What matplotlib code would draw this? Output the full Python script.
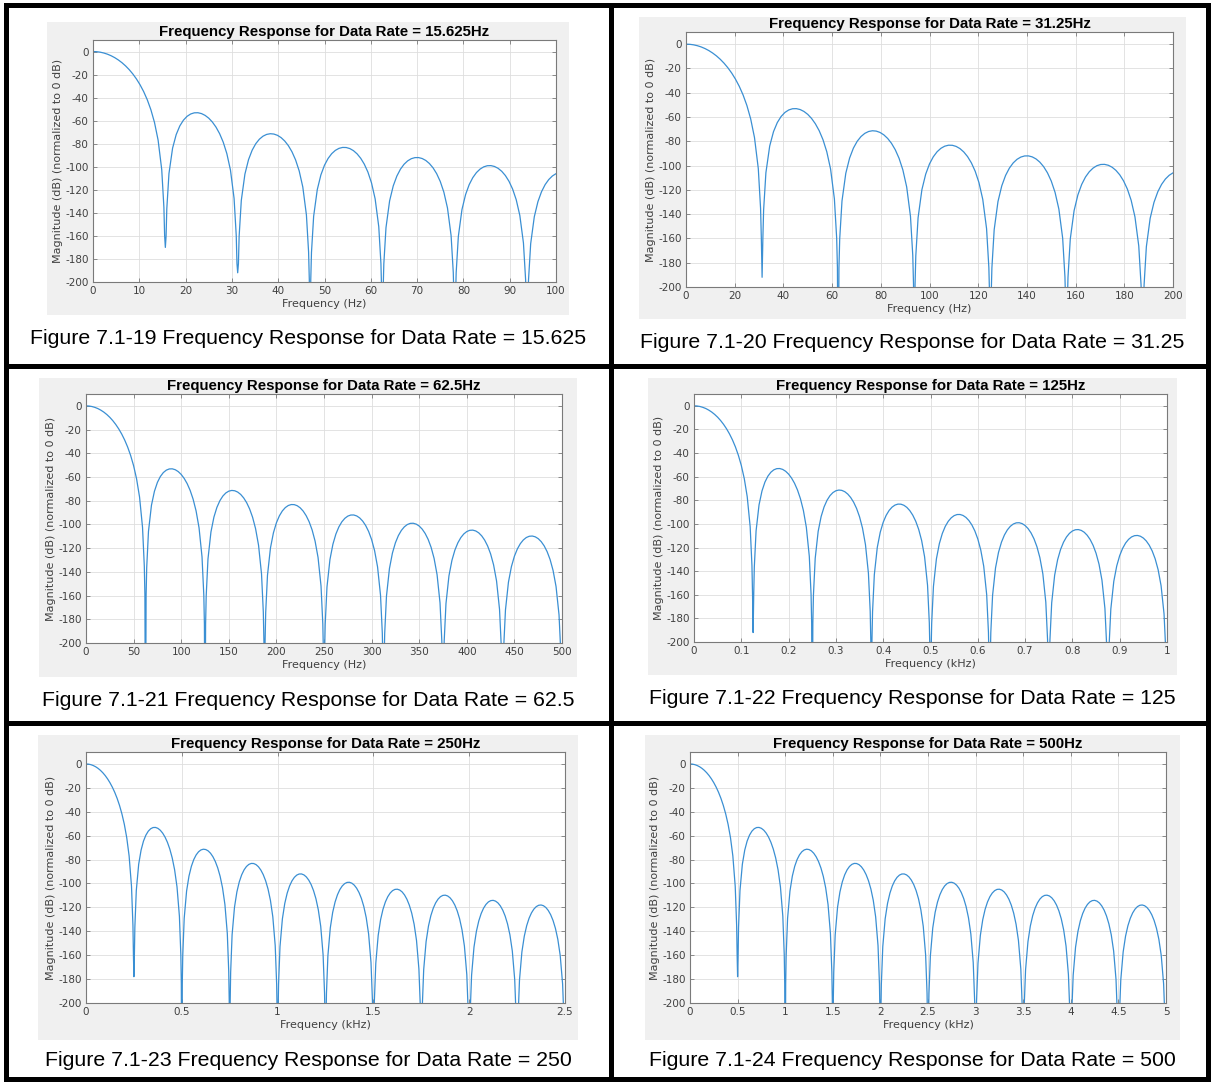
import numpy as np
import matplotlib.pyplot as plt
from matplotlib.lines import Line2D
from matplotlib.patches import Rectangle

plt.rcParams['axes.unicode_minus'] = False

W, H = 1211, 1083

# ---- data ----
# response shape in units of the data rate (f / data rate), values in dB
main_x = [0, 0.05, 0.1, 0.15, 0.2, 0.25, 0.3, 0.35, 0.4, 0.45, 0.5, 0.55,
          0.6, 0.65, 0.7, 0.75, 0.8, 0.85, 0.9, 0.95, 0.98, 0.99]
main_db = [0, -0.14, -0.57, -1.30, -2.31, -3.65, -5.30, -7.31, -9.67, -12.46,
           -15.69, -19.43, -23.76, -28.81, -34.74, -41.82, -50.48, -61.56,
           -76.91, -102.44, -135.24, -159.65]

# side lobes: points at n + offset, n = 1..9
lobe_offsets = [0.01, 0.02, 0.05, 0.1, 0.15, 0.2, 0.25, 0.3, 0.35, 0.4, 0.45,
                0.5, 0.55, 0.6, 0.65, 0.7, 0.75, 0.8, 0.85, 0.9, 0.95, 0.98, 0.99]
lobe1 = [-160.35, -136.63, -105.92, -83.88, -72.07, -64.56, -59.57, -56.25, -54.21, -53.20, -53.11, -53.86, -55.43, -57.84, -61.18, -65.57, -71.25, -78.65, -88.58, -102.87, -127.42, -159.67, -183.91]
lobe2 = [-184.25, -160.37, -129.17, -106.35, -93.80, -85.62, -79.98, -76.07, -73.46, -71.93, -71.33, -71.61, -72.72, -74.71, -77.64, -81.64, -86.95, -94.00, -103.59, -117.56, -141.81, -173.88, -198.05]
lobe3 = [-198.29, -174.34, -142.97, -119.88, -107.07, -98.64, -92.76, -88.61, -85.78, -84.03, -83.23, -83.30, -84.22, -86.01, -88.76, -92.59, -97.73, -104.61, -114.05, -127.86, -151.96, -183.94, -208.08]
lobe4 = [-208.26, -184.28, -152.82, -129.59, -116.65, -108.09, -102.08, -97.81, -94.86, -92.99, -92.07, -92.03, -92.84, -94.53, -97.18, -100.90, -105.95, -112.73, -122.07, -135.79, -159.79, -191.72, -215.85]
lobe5 = [-215.99, -192.00, -160.49, -137.18, -124.16, -115.51, -109.42, -105.07, -102.05, -100.10, -99.11, -99.00, -99.75, -101.37, -103.95, -107.60, -112.58, -119.30, -128.58, -142.24, -166.18, -198.07, -222.19]
lobe6 = [-222.31, -198.31, -166.76, -143.40, -130.32, -121.62, -115.48, -111.08, -108.00, -106.00, -104.96, -104.80, -105.50, -107.07, -109.61, -113.22, -118.16, -124.83, -134.07, -147.68, -171.58, -203.45, -227.56]
lobe7 = [-227.66, -203.65, -172.08, -148.67, -135.56, -126.82, -120.64, -116.20, -113.09, -111.05, -109.98, -109.78, -110.44, -111.98, -114.48, -118.05, -122.96, -129.60, -138.80, -152.38, -176.25, -208.10, -232.21]
lobe8 = [-232.29, -208.28, -176.69, -153.25, -140.11, -131.34, -125.13, -120.66, -117.52, -115.45, -114.35, -114.12, -114.76, -116.27, -118.74, -122.29, -127.17, -133.79, -142.97, -156.52, -180.37, -212.20, -236.30]
lobe9 = [-236.38, -212.36, -180.75, -157.29, -144.12, -135.33, -129.10, -124.61, -121.45, -119.36, -118.24, -117.99, -118.60, -120.09, -122.54, -126.07, -130.93, -137.53, -146.69, -160.22, -184.05, -215.87, -239.96]
lobes = [lobe1, lobe2, lobe3, lobe4, lobe5, lobe6, lobe7, lobe8, lobe9]

# how deep each null (1..10) dips in each panel
null_depth = [
    [-170, -192, -300, -300, -300, -300, -300, -300, -300, -300],
    [-192, -300, -300, -300, -300, -300, -300, -300, -300, -300],
    [-300, -300, -300, -300, -300, -300, -300, -300, -300, -300],
    [-192, -300, -300, -300, -300, -300, -300, -300, -300, -300],
    [-178, -300, -300, -300, -300, -300, -300, -300, -300, -300],
    [-178, -300, -300, -300, -300, -300, -300, -300, -300, -300],
]

data_rates = [15.625, 31.25, 62.5, 0.125, 0.25, 0.5]   # in axis units (Hz or kHz)
x_max = [100, 200, 500, 1, 2.5, 5]
x_steps = [10, 20, 50, 0.1, 0.5, 0.5]
x_labels = ['Frequency (Hz)'] * 3 + ['Frequency (kHz)'] * 3
titles = ['Frequency Response for Data Rate = 15.625Hz',
          'Frequency Response for Data Rate = 31.25Hz',
          'Frequency Response for Data Rate = 62.5Hz',
          'Frequency Response for Data Rate = 125Hz',
          'Frequency Response for Data Rate = 250Hz',
          'Frequency Response for Data Rate = 500Hz']
captions = ['Figure 7.1-19 Frequency Response for Data Rate = 15.625',
            'Figure 7.1-20 Frequency Response for Data Rate = 31.25',
            'Figure 7.1-21 Frequency Response for Data Rate = 62.5',
            'Figure 7.1-22 Frequency Response for Data Rate = 125',
            'Figure 7.1-23 Frequency Response for Data Rate = 250',
            'Figure 7.1-24 Frequency Response for Data Rate = 500']
y_ticks = [0, -20, -40, -60, -80, -100, -120, -140, -160, -180, -200]

# ---- layout in pixels: (left, top, right, bottom) ----
bg_boxes = [(47, 22, 569, 315), (639, 17, 1186, 319),
            (39, 378, 577, 677), (648, 378, 1177, 675),
            (38, 735, 578, 1040), (645, 735, 1180, 1040)]
ax_boxes = [(93, 40, 556, 282), (686, 32, 1173, 287),
            (86, 394, 562, 643), (694, 394, 1167, 642),
            (86, 752, 565, 1003), (690, 752, 1166, 1003)]
cap_pos = [(308, 338), (912, 343), (308, 700), (912, 698), (308, 1060), (912, 1060)]


def fx(px):
    return px / W


def fy(py):
    return 1 - py / H


def response(rate, depths):
    xs = list(main_x)
    ys = list(main_db)
    for n, lobe in enumerate(lobes, start=1):
        xs.append(n)
        ys.append(depths[n - 1])
        xs += [n + o for o in lobe_offsets]
        ys += lobe
    xs.append(10)
    ys.append(depths[9])
    return np.array(xs) * rate, np.array(ys)


fig = plt.figure(figsize=(W / 100, H / 100), dpi=100)
fig.patch.set_facecolor('white')

tick_col = '#404040'
for i in range(6):
    l, t, r, b = bg_boxes[i]
    fig.add_artist(Rectangle((fx(l), fy(b)), (r - l) / W, (b - t) / H,
                             transform=fig.transFigure, facecolor='#f0f0f0',
                             edgecolor='none', zorder=0))
    l, t, r, b = ax_boxes[i]
    ax = fig.add_axes([fx(l), fy(b), (r - l) / W, (b - t) / H])
    x, y = response(data_rates[i], null_depth[i])
    ax.plot(x, y, color='#3a8fd3', lw=0.9)
    ax.set_xlim(0, x_max[i])
    ax.set_ylim(-200, 10)
    xt = np.arange(0, x_max[i] + x_steps[i] / 2, x_steps[i])
    ax.set_xticks(xt)
    ax.set_xticklabels([f'{v:g}' for v in np.round(xt, 3)])
    ax.set_yticks(y_ticks)
    ax.set_yticklabels([str(v) for v in y_ticks])
    ax.grid(True, color='#dedede', lw=0.6)
    ax.set_axisbelow(True)
    ax.tick_params(direction='in', length=3, width=0.6, colors='#7a7a7a',
                   labelcolor=tick_col, labelsize=7.5, top=True, right=True, pad=3)
    for s in ax.spines.values():
        s.set_color('#7a7a7a')
        s.set_linewidth(0.8)
    ax.set_xlabel(x_labels[i], fontsize=8, color=tick_col, labelpad=2)
    ax.set_ylabel('Magnitude (dB) (normalized to 0 dB)', fontsize=8,
                  color=tick_col, labelpad=2)
    ax.set_title(titles[i], fontsize=10.8, fontweight='bold',
                 family='Liberation Sans', pad=3)
    cx, cy = cap_pos[i]
    fig.text(fx(cx), fy(cy), captions[i], ha='center', va='center',
             fontsize=15.3, family='Liberation Sans', color='black')

# table borders
lw = 3.6
border = dict(color='black', lw=lw, solid_capstyle='projecting',
              transform=fig.transFigure)
for yy in [4.5, 365.5, 723, 1079]:
    fig.add_artist(Line2D([fx(6), fx(1208)], [fy(yy), fy(yy)], **border))
for xx in [6, 611, 1208]:
    fig.add_artist(Line2D([fx(xx), fx(xx)], [fy(4.5), fy(1079)], **border))

fig.savefig('out.png', dpi=100)
